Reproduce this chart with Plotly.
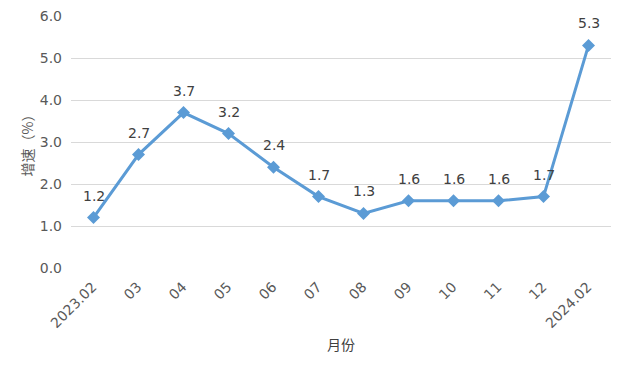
import plotly.graph_objects as go

months = ["2023.02", "03", "04", "05", "06", "07", "08", "09", "10", "11", "12", "2024.02"]
growth = [1.2, 2.7, 3.7, 3.2, 2.4, 1.7, 1.3, 1.6, 1.6, 1.6, 1.7, 5.3]
y_ticks = [0, 1, 2, 3, 4, 5, 6]
y_tick_labels = ["0.0", "1.0", "2.0", "3.0", "4.0", "5.0", "6.0"]

fig = go.Figure()
fig.add_trace(go.Scatter(
    x=months, y=growth, mode="lines+markers",
    line=dict(color="#5B9BD5", width=3),
    marker=dict(symbol="diamond", size=10, color="#5B9BD5"),
    cliponaxis=False, showlegend=False,
))
for i, v in enumerate(growth):
    fig.add_annotation(x=i, y=v, xref="x", yref="y", text=f"{v:.1f}", showarrow=False, yshift=22,
                       font=dict(family="DejaVu Sans", size=14, color="#404040"))
fig.update_layout(
    width=613, height=362,
    margin=dict(l=63, r=10, t=8, b=102, autoexpand=False),
    paper_bgcolor="white", plot_bgcolor="white",
    font=dict(family="DejaVu Sans", color="#595959", size=14),
    xaxis=dict(type="category", categoryorder="array", categoryarray=months,
               range=[-0.5, len(months) - 0.5], automargin=False,
               tickangle=-45, showgrid=False, showline=False,
               ticks="", ticklabelstandoff=7, ticklabelshift=-1,
               tickfont=dict(family="DejaVu Sans", size=14, color="#595959"),
               title=dict(text="月份", font=dict(family="Noto Sans CJK SC", size=14, color="#404040"), standoff=10)),
    yaxis=dict(range=[0, 6], tickvals=y_ticks, ticktext=y_tick_labels, automargin=False,
               showgrid=True, gridcolor="#D9D9D9", gridwidth=1, zeroline=False,
               ticklabeloverflow="allow",
               ticks="", ticklabelstandoff=8, tickfont=dict(family="DejaVu Sans", size=14, color="#595959"),
               title=dict(text="增速（%）", font=dict(family="Noto Sans CJK SC", size=14, color="#595959"), standoff=2)),
)
fig.write_html("out.html")
